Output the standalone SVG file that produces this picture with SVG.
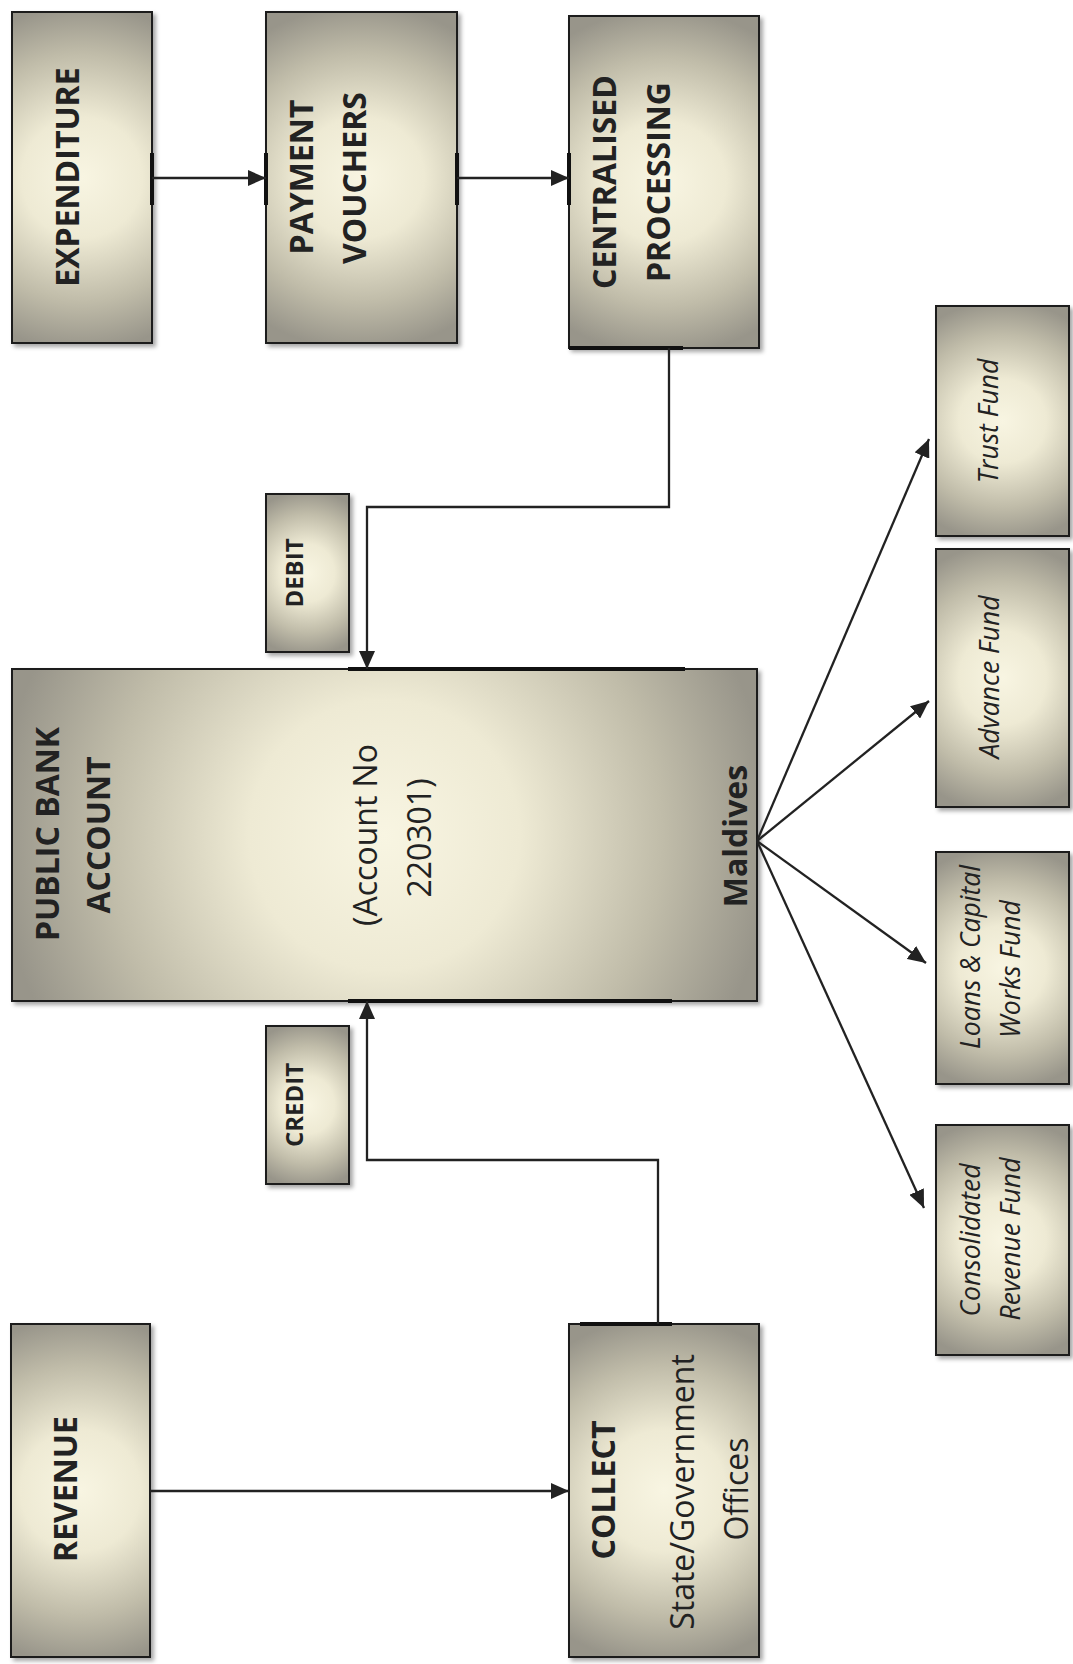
<svg xmlns="http://www.w3.org/2000/svg" width="1073" height="1664" viewBox="0 0 1073 1664">
<style>
.box{stroke:#1e1e1e;stroke-width:2;filter:url(#sh)}
.gt{fill:url(#gt)}
.gx{fill:url(#gx)}
.gw{fill:url(#gw)}
.t{font-family:"Open Sans","Liberation Sans",sans-serif;fill:#222;text-anchor:middle}
.b{font-weight:700;font-size:32px}
.r{font-weight:400;font-size:32px}
.s{font-weight:700;font-size:24px}
.i{font-style:italic;font-weight:400;font-size:26.5px}
.c{fill:none;stroke:#222;stroke-width:2.3}
.a{marker-end:url(#ah)}
.p{stroke:#111;stroke-width:4;fill:none}
</style>
<defs>
<radialGradient id="gbase">
<stop offset="0" stop-color="#f8f5e2"/>
<stop offset="0.35" stop-color="#eeead4"/>
<stop offset="0.72" stop-color="#c0bca9"/>
<stop offset="1" stop-color="#98958a"/>
</radialGradient>
<radialGradient id="gt" href="#gbase" cx="0.5" cy="0.5" r="0.52" gradientTransform="translate(0.5 0.5) scale(1.8 1) translate(-0.5 -0.5)"/>
<radialGradient id="gx" href="#gbase" cx="0.5" cy="0.5" r="0.52" gradientTransform="translate(0.5 0.5) scale(2.37 1) translate(-0.5 -0.5)"/>
<radialGradient id="gw" href="#gbase" cx="0.5" cy="0.5" r="0.52" gradientTransform="translate(0.5 0.5) scale(1 2.24) translate(-0.5 -0.5)"/>
<filter id="sh" x="-10%" y="-10%" width="125%" height="125%">
<feDropShadow dx="3" dy="3" stdDeviation="2" flood-color="#000" flood-opacity="0.35"/>
</filter>
<marker id="ah" markerUnits="userSpaceOnUse" markerWidth="18" markerHeight="16" refX="18" refY="8" orient="auto">
<path d="M0,0 L18,8 L0,16 z" fill="#222"/>
</marker>
</defs>

<g id="expenditure"><rect class="box gx" x="12" y="12" width="140" height="331"/>
<text class="t b" transform="translate(79,177) rotate(-90)">EXPENDITURE</text></g>

<g id="payment-vouchers"><rect class="box gt" x="266" y="12" width="191" height="331"/>
<text class="t b" transform="translate(313,177) rotate(-90)">PAYMENT</text>
<text class="t b" transform="translate(366,178) rotate(-90)">VOUCHERS</text></g>

<g id="centralised-processing"><rect class="box gt" x="569" y="16" width="190" height="332"/>
<text class="t b" transform="translate(616,182) rotate(-90)">CENTRALISED</text>
<text class="t b" transform="translate(670,182) rotate(-90)">PROCESSING</text></g>

<g id="debit"><rect class="box gt" x="266" y="494" width="83" height="158"/>
<text class="t s" transform="translate(303,573) rotate(-90)">DEBIT</text></g>

<g id="public-bank-account"><rect class="box gw" x="12" y="669" width="745" height="332"/>
<text class="t b" transform="translate(59,834) rotate(-90)">PUBLIC BANK</text>
<text class="t b" transform="translate(110,835) rotate(-90)">ACCOUNT</text>
<text class="t r" transform="translate(377,835) rotate(-90)">(Account No</text>
<text class="t r" transform="translate(431,838) rotate(-90)">220301)</text>
<text class="t b" transform="translate(747,836) rotate(-90)">Maldives</text></g>

<g id="credit"><rect class="box gt" x="266" y="1026" width="83" height="158"/>
<text class="t s" transform="translate(303,1105) rotate(-90)">CREDIT</text></g>

<g id="revenue"><rect class="box gx" x="11" y="1324" width="139" height="333"/>
<text class="t b" transform="translate(77,1489) rotate(-90)">REVENUE</text></g>

<g id="collect"><rect class="box gt" x="569" y="1324" width="190" height="333"/>
<text class="t b" transform="translate(615,1490) rotate(-90)">COLLECT</text>
<text class="t r" transform="translate(694,1492) rotate(-90)">State/Government</text>
<text class="t r" transform="translate(748,1489) rotate(-90)">Offices</text></g>

<g id="trust-fund"><rect class="box gt" x="936" y="306" width="133" height="230"/>
<text class="t i" transform="translate(998,421) rotate(-90)">Trust Fund</text></g>

<g id="advance-fund"><rect class="box gt" x="936" y="549" width="133" height="258"/>
<text class="t i" transform="translate(999,677) rotate(-90)">Advance Fund</text></g>

<g id="loans-capital-works-fund"><rect class="box gt" x="936" y="852" width="133" height="232"/>
<text class="t i" transform="translate(980,957) rotate(-90)">Loans &amp; Capital</text>
<text class="t i" transform="translate(1020,969) rotate(-90)">Works Fund</text></g>

<g id="consolidated-revenue-fund"><rect class="box gt" x="936" y="1125" width="133" height="230"/>
<text class="t i" transform="translate(980,1240) rotate(-90)">Consolidated</text>
<text class="t i" transform="translate(1020,1239) rotate(-90)">Revenue Fund</text></g>

<g id="connectors">
<path class="p" d="M152,153 V205 M266,153 V205 M457,153 V205 M569,153 V205 M569,348 H683 M348,669 H685 M348,1001 H672 M580,1324 H672"/>
<path class="c a" d="M152,178 H266"/>
<path class="c a" d="M457,178 H569"/>
<path class="c a" d="M669,348 V507 H367 V669"/>
<path class="c a" d="M150,1491 H569"/>
<path class="c a" d="M658,1324 V1160 H367 V1001"/>
<path class="c a" d="M757,841 L929,439"/>
<path class="c a" d="M757,841 L929,701"/>
<path class="c a" d="M757,841 L926,963"/>
<path class="c a" d="M757,841 L924,1208"/>
</g>
</svg>
